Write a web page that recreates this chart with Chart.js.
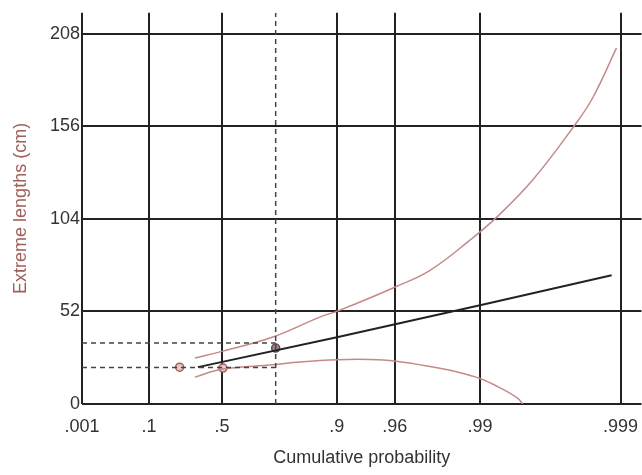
<!DOCTYPE html>
<html>
<head>
<meta charset="utf-8">
<script src="https://cdn.jsdelivr.net/npm/chart.js@4.4.1/dist/chart.umd.min.js"></script>
<style>
  html, body { margin: 0; padding: 0; background: #fff; overflow: hidden; }
  canvas { display: block; }
</style>
</head>
<body>
<!-- a few px wider than the window so the plot area runs to the right edge -->
<canvas id="myChart" width="647" height="475"></canvas>
<script>
// probability axis (Gumbel paper), tick labels
const probLabels = ['.001', '.1', '.5', '.9', '.96', '.99', '.999'];
const probValues = [0.001, 0.1, 0.5, 0.9, 0.96, 0.99, 0.999];
const yTicks = [0, 52, 104, 156, 208];

// curves, x given as Gumbel reduced variate -ln(-ln p)
const fitX = [-0.03, 2.27, 4.60, 6.76];
const fitY = [20.7, 37.6, 55.5, 72.3];

const upperX = [-0.08, 0.38, 1.20, 1.97, 2.30, 3.20, 3.78, 4.43, 4.87, 5.46, 6.15, 6.45, 6.84];
const upperY = [25.8, 29.7, 37.6, 48.8, 52.7, 65.6, 75.1, 91.9, 104.8, 125.6, 156.4, 172, 200];

const lowerX = [-0.08, 0.38, 1.20, 1.64, 2.27, 2.80, 3.20, 3.78, 4.27, 4.60, 4.92, 5.22, 5.30];
const lowerY = [15.1, 19.6, 22.0, 23.6, 24.9, 25.0, 24.1, 21.0, 17.6, 14.3, 9.2, 3.2, 0];

// observed points and the reference lines
const obsX = [-0.33, 0.38];
const obsY = [20.7, 20.2];
const refProb = 0.75;
const refY = 31.4;
const refLevels = [34.2, 20.5];

const gumbel = p => -Math.log(-Math.log(p));
const xMin = gumbel(0.001);
const xMax = 7.25;
const yMax = 219.7;

const pts = (xs, ys) => xs.map((x, i) => ({x: x, y: ys[i]}));
const refX = gumbel(refProb);

const pink = '#c48a88';
const dash = '#444';

const line = (data, color, width, extra) => Object.assign({
  data: data, showLine: true, borderColor: color, borderWidth: width, pointRadius: 0
}, extra || {});

const datasets = [
  line([{x: refX, y: 0}, {x: refX, y: yMax}], dash, 1.5, {borderDash: [5, 4]}),
  line([{x: xMin, y: refLevels[0]}, {x: refX, y: refLevels[0]}], dash, 1.5, {borderDash: [5, 4]}),
  line([{x: xMin, y: refLevels[1]}, {x: refX, y: refLevels[1]}], dash, 1.5, {borderDash: [5, 4]}),
  line(pts(upperX, upperY), pink, 1.5, {tension: 0.4}),
  line(pts(lowerX, lowerY), pink, 1.5, {tension: 0.4}),
  line(pts(fitX, fitY), '#222', 2),
  {data: pts(obsX, obsY), showLine: false, pointRadius: 4, pointBorderWidth: 1.5, pointBorderColor: '#a0605c', pointBackgroundColor: '#e8c8c6'},
  {data: [{x: refX, y: refY}], showLine: false, pointRadius: 4, pointBorderWidth: 1.5, pointBorderColor: '#5a4a55', pointBackgroundColor: '#a08890'}
];

const ctx = document.getElementById('myChart');

const config = {
  type: 'scatter',
  data: {datasets: datasets},
  options: {
    responsive: false,
    animation: false,
    layout: {padding: {left: 10, right: 0, top: 12, bottom: 0}},
    plugins: {
      legend: {display: false},
      tooltip: {enabled: false}
    },
    scales: {
      x: {
        type: 'linear',
        min: xMin,
        max: xMax,
        afterBuildTicks: axis => { axis.ticks = probValues.map(p => ({value: gumbel(p)})); },
        afterFit: axis => { axis.height = 71; axis.paddingRight = 0; axis.paddingLeft = 0; },
        ticks: {
          color: '#333',
          font: {family: 'Liberation Sans', size: 18},
          padding: 12,
          maxRotation: 0,
          autoSkip: false,
          callback: (v, i) => probLabels[i]
        },
        grid: {color: '#222', lineWidth: 2, drawTicks: false},
        border: {display: false},
        title: {
          display: true,
          text: 'Cumulative probability',
          color: '#333',
          font: {family: 'Liberation Sans', size: 18},
          padding: {top: 4, bottom: 6}
        }
      },
      y: {
        min: 0,
        max: yMax,
        afterBuildTicks: axis => { axis.ticks = yTicks.map(v => ({value: v})); },
        afterFit: axis => { axis.width = 72; },
        ticks: {
          color: '#333',
          font: {family: 'Liberation Sans', size: 18},
          padding: 2
        },
        grid: {color: '#222', lineWidth: 2, drawTicks: false},
        border: {display: false},
        title: {
          display: true,
          text: 'Extreme lengths (cm)',
          color: '#a0605a',
          font: {family: 'Liberation Sans', size: 18},
          padding: {top: 0, bottom: 4}
        }
      }
    }
  }
};

new Chart(ctx, config);
</script>
</body>
</html>
